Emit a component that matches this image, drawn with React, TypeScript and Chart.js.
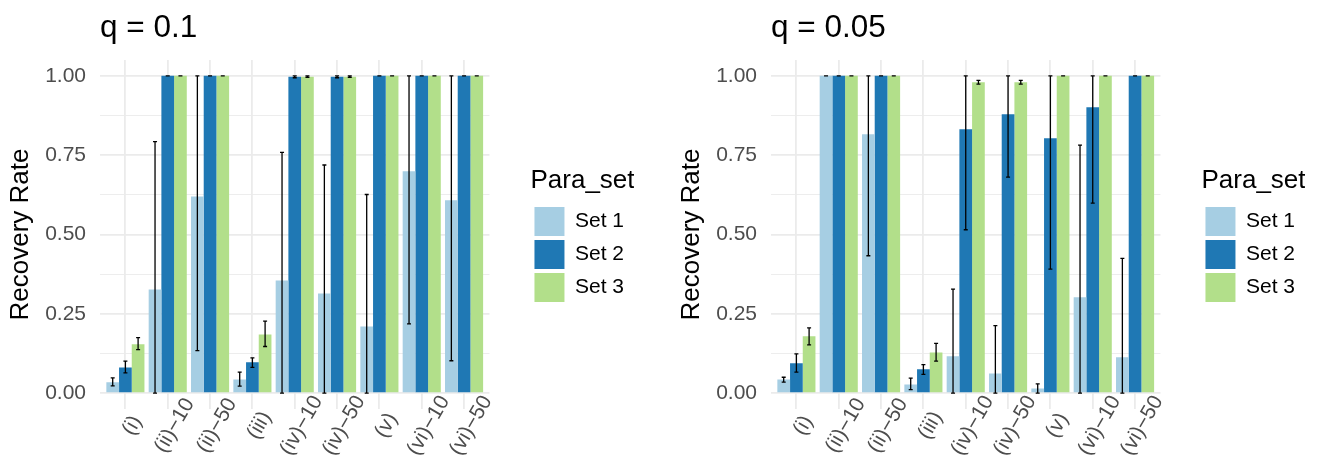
import React, { useEffect, useRef } from "react";
import { Chart, registerables } from "chart.js";

Chart.register(...registerables);

// ---------- data ----------
const categories = ["(i)", "(ii)−10", "(ii)−50", "(iii)", "(iv)−10", "(iv)−50", "(v)", "(vi)−10", "(vi)−50"];
const seriesNames = ["Set 1", "Set 2", "Set 3"];
const seriesColors = ["#A6CEE3", "#1F78B4", "#B2DF8A"];
const yTickValues = [0, 0.125, 0.25, 0.375, 0.5, 0.625, 0.75, 0.875, 1];
const panelTitles = ["q = 0.1", "q = 0.05"];

// q = 0.1
const q1Set1 = [0.034, 0.327, 0.62, 0.043, 0.355, 0.314, 0.21, 0.699, 0.608];
const q1Set1Low = [0.023, 0, 0.134, 0.022, 0, 0, 0, 0.218, 0.102];
const q1Set1High = [0.048, 0.793, 1, 0.066, 0.759, 0.719, 0.626, 1, 1];
const q1Set2 = [0.081, 1, 1, 0.097, 0.997, 0.997, 1, 1, 1];
const q1Set2Low = [0.064, 1, 1, 0.081, 0.994, 0.994, 1, 1, 1];
const q1Set2High = [0.101, 1, 1, 0.111, 1, 1, 1, 1, 1];
const q1Set3 = [0.154, 1, 1, 0.185, 0.997, 0.997, 1, 1, 1];
const q1Set3Low = [0.137, 1, 1, 0.147, 0.995, 0.995, 1, 1, 1];
const q1Set3High = [0.175, 1, 1, 0.227, 1, 1, 1, 1, 1];

// q = 0.05
const q2Set1 = [0.043, 1, 0.816, 0.027, 0.116, 0.062, 0.015, 0.302, 0.113];
const q2Set1Low = [0.035, 1, 0.433, 0.011, 0, 0, 0, 0, 0];
const q2Set1High = [0.05, 1, 1, 0.047, 0.328, 0.213, 0.029, 0.782, 0.425];
const q2Set2 = [0.094, 1, 1, 0.075, 0.832, 0.879, 0.803, 0.901, 1];
const q2Set2Low = [0.066, 1, 1, 0.059, 0.515, 0.681, 0.391, 0.599, 1];
const q2Set2High = [0.124, 1, 1, 0.09, 1, 1, 1, 1, 1];
const q2Set3 = [0.179, 1, 1, 0.128, 0.98, 0.98, 1, 1, 1];
const q2Set3Low = [0.152, 1, 1, 0.101, 0.974, 0.974, 1, 1, 1];
const q2Set3High = [0.206, 1, 1, 0.157, 0.986, 0.986, 1, 1, 1];

const FONT = "'Liberation Sans', Arial, Helvetica, sans-serif";
const PANEL_W = 652;
const PANEL_H = 456;

const isMajor = (v: number) => Math.abs(v * 4 - Math.round(v * 4)) < 1e-6;

const errorBarPlugin = {
  id: "errorBars",
  afterDatasetsDraw(chart: any) {
    const ctx = chart.ctx;
    const yScale = chart.scales.y;
    chart.data.datasets.forEach((ds: any, i: number) => {
      const meta = chart.getDatasetMeta(i);
      meta.data.forEach((bar: any, j: number) => {
        const x = bar.x;
        const y1 = yScale.getPixelForValue(ds.errLow[j]);
        const y2 = yScale.getPixelForValue(ds.errHigh[j]);
        const cap = 2;
        ctx.save();
        ctx.strokeStyle = "#000000";
        ctx.lineWidth = 1.3;
        ctx.beginPath();
        ctx.moveTo(x, y1);
        ctx.lineTo(x, y2);
        ctx.moveTo(x - cap, y1);
        ctx.lineTo(x + cap, y1);
        ctx.moveTo(x - cap, y2);
        ctx.lineTo(x + cap, y2);
        ctx.stroke();
        ctx.restore();
      });
    });
  },
};

// rotated (60°) x-axis labels, centred on an anchor just below each tick
const xLabelPlugin = {
  id: "xLabels",
  afterDraw(chart: any) {
    const xs = chart.scales.x;
    const ctx = chart.ctx;
    ctx.save();
    ctx.font = `21px ${FONT}`;
    ctx.fillStyle = "#4D4D4D";
    ctx.textAlign = "center";
    ctx.textBaseline = "middle";
    xs.ticks.forEach((t: any) => {
      const label = categories[Math.round(t.value)];
      if (label === undefined) return;
      const x = xs.getPixelForValue(t.value) + 7;
      const y = xs.top + 16.5;
      ctx.save();
      ctx.translate(x, y);
      ctx.rotate(-Math.PI / 3);
      ctx.fillText(label, 0, 0);
      ctx.restore();
    });
    ctx.restore();
  },
};

type PanelProps = {
  title: string;
  values: number[][];
  lows: number[][];
  highs: number[][];
};

function Panel({ title, values, lows, highs }: PanelProps) {
  const ref = useRef<HTMLCanvasElement | null>(null);
  useEffect(() => {
    if (!ref.current) return;
    const chart = new Chart(ref.current, {
      type: "bar",
      data: {
        datasets: seriesNames.map((name, k) => ({
          label: name,
          data: values[k].map((v, i) => ({ x: i, y: v })),
          backgroundColor: seriesColors[k],
          borderWidth: 0,
          categoryPercentage: 0.9,
          barPercentage: 1,
          errLow: lows[k],
          errHigh: highs[k],
        })) as any,
      },
      options: {
        animation: false,
        responsive: false,
        maintainAspectRatio: false,
        layout: { padding: { left: 0, right: 18, top: 0, bottom: 0 } },
        plugins: {
          title: {
            display: true,
            text: title,
            align: "start",
            fullSize: false,
            color: "#000000",
            font: { family: FONT, size: 31.5, weight: "normal" },
            padding: { top: 9.5, bottom: 12.7 },
          },
          legend: {
            position: "right",
            align: "center",
            title: {
              display: true,
              text: "Para_set",
              position: "start",
              color: "#000000",
              font: { family: FONT, size: 26 },
              padding: { top: 18, bottom: 4 },
            },
            labels: {
              boxWidth: 30,
              boxHeight: 29,
              padding: 4,
              color: "#000000",
              font: { family: FONT, size: 21 },
            },
          },
          tooltip: { enabled: false },
        },
        scales: {
          x: {
            type: "linear",
            min: -0.6,
            max: 8.6,
            offset: false,
            afterBuildTicks: (s: any) => {
              s.ticks = categories.map((_, i) => ({ value: i }));
            },
            afterFit: (s: any) => {
              s.height = 47;
            },
            ticks: { display: false, autoSkip: false },
            grid: { color: "#EBEBEB", lineWidth: 1.8, drawTicks: false, offset: false },
            border: { display: false },
          },
          y: {
            type: "linear",
            min: -0.05,
            max: 1.05,
            afterBuildTicks: (s: any) => {
              s.ticks = yTickValues.map((v) => ({ value: v }));
            },
            afterFit: (s: any) => {
              s.width = 100;
            },
            ticks: {
              callback: (v: any) => (isMajor(Number(v)) ? Number(v).toFixed(2) : ""),
              color: "#4D4D4D",
              font: { family: FONT, size: 21 },
              padding: 14,
              autoSkip: false,
            },
            grid: {
              color: "#EBEBEB",
              lineWidth: (c: any) => (c.tick && isMajor(c.tick.value) ? 1.8 : 0.9),
              drawTicks: false,
            },
            border: { display: false },
            title: {
              display: true,
              text: "Recovery Rate",
              color: "#000000",
              font: { family: FONT, size: 26 },
              padding: { top: 5, bottom: 0 },
            },
          },
          gap: {
            type: "linear",
            position: "right",
            display: true,
            grid: { display: false },
            ticks: { display: false },
            border: { display: false },
            afterFit: (s: any) => {
              s.width = 41;
            },
          },
        },
      } as any,
      plugins: [errorBarPlugin as any, xLabelPlugin as any],
    });
    return () => chart.destroy();
  }, [title, values, lows, highs]);
  return <canvas ref={ref} width={PANEL_W} height={PANEL_H} style={{ display: "block", width: PANEL_W, height: PANEL_H }} />;
}

const panel1Values = [q1Set1, q1Set2, q1Set3];
const panel1Lows = [q1Set1Low, q1Set2Low, q1Set3Low];
const panel1Highs = [q1Set1High, q1Set2High, q1Set3High];
const panel2Values = [q2Set1, q2Set2, q2Set3];
const panel2Lows = [q2Set1Low, q2Set2Low, q2Set3Low];
const panel2Highs = [q2Set1High, q2Set2High, q2Set3High];

export default function App() {
  return (
    <div style={{ position: "fixed", left: 0, top: 0, width: 1323, height: 456, background: "#ffffff" }}>
      <div style={{ position: "absolute", left: 0, top: 0 }}>
        <Panel title={panelTitles[0]} values={panel1Values} lows={panel1Lows} highs={panel1Highs} />
      </div>
      <div style={{ position: "absolute", left: 671, top: 0 }}>
        <Panel title={panelTitles[1]} values={panel2Values} lows={panel2Lows} highs={panel2Highs} />
      </div>
    </div>
  );
}
